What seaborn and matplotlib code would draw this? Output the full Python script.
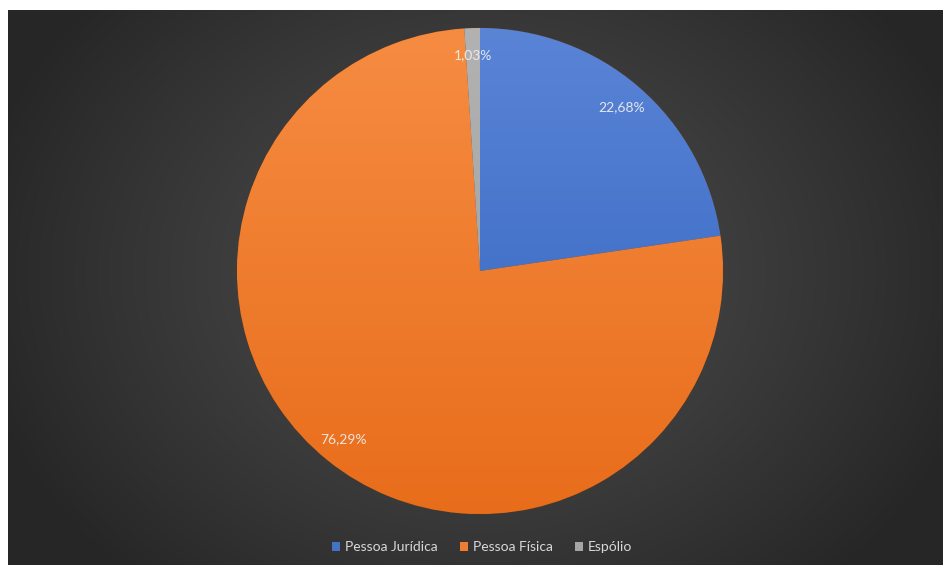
import numpy as np
import matplotlib
matplotlib.use("Agg")
import matplotlib.pyplot as plt
from matplotlib.patches import Patch
from matplotlib.colors import LinearSegmentedColormap, to_rgb
import seaborn as sns

# Share of records by type of holder
categories = ["Pessoa Jurídica", "Pessoa Física", "Espólio"]
shares = [22.68, 76.29, 1.03]
colors_top = ["#5a84d6", "#f68c42", "#b2b2b2"]
colors_bottom = ["#2f62be", "#e86d1b", "#9c9c9c"]
base_colors = ["#4472c4", "#ed7d31", "#a5a5a5"]

sns.set_theme(style="white")
plt.rcParams["font.family"] = ["Lato", "DejaVu Sans"]

W, H = 943, 565
fig = plt.figure(figsize=(W / 100, H / 100), dpi=100, facecolor="white")

# Dark chart area with a radial glow behind the pie
bg = fig.add_axes([8 / W, 0, 1 - 8 / W, 1 - 10 / H])
bg.set_axis_off()
ny, nx = 555, 935
yy, xx = np.mgrid[0:ny, 0:nx]
cx, cy = 472, 262
d = np.sqrt(((xx - cx) / 520.0) ** 2 + ((yy - cy) / 420.0) ** 2)
d = np.clip(d, 0, 1)
inner = np.array(to_rgb("#4d4d4d"))
outer = np.array(to_rgb("#262626"))
t = d[..., None] ** 1.2
img = inner * (1 - t) + outer * t
bg.imshow(img, aspect="auto", extent=[0, 1, 0, 1], origin="upper")

# Pie axes: centre at (480, 271) px, radius ~243 px
R = 243
cxp, cyp = 480, 271
pie_ax = fig.add_axes([(cxp - R - 4) / W, (H - cyp - R - 4) / H,
                       (2 * R + 8) / W, (2 * R + 8) / H])
pie_ax.set_axis_off()

wedges, texts, autotexts = pie_ax.pie(
    shares,
    colors=base_colors,
    startangle=90,
    counterclock=False,
    radius=1.0,
    autopct=lambda p: f"{p:.2f}%".replace(".", ","),
    pctdistance=0.89,
    textprops=dict(color="#f2f2f2", fontsize=10, alpha=0.9),
    wedgeprops=dict(edgecolor="#5a3a20", linewidth=0.6),
)
pie_ax.set_xlim(-1.0 - 8 / (2 * R), 1.0 + 8 / (2 * R))
pie_ax.set_ylim(-1.0 - 8 / (2 * R), 1.0 + 8 / (2 * R))
pie_ax.set_aspect("equal")

# Vertical shading inside each slice
for w, ctop, cbot in zip(wedges, colors_top, colors_bottom):
    cmap = LinearSegmentedColormap.from_list("shade", [ctop, cbot])
    grad = np.linspace(0, 1, 256)[:, None]
    im = pie_ax.imshow(grad, cmap=cmap, extent=[-1, 1, -1, 1],
                       origin="upper", aspect="auto", zorder=w.get_zorder() + 0.1)
    im.set_clip_path(w)
    w.set_zorder(w.get_zorder())

for t_ in autotexts:
    t_.set_zorder(10)

# Legend along the bottom
handles = [Patch(facecolor=c, edgecolor="none") for c in base_colors]
leg = fig.legend(handles, categories, loc="center", ncol=3,
                 bbox_to_anchor=(482 / W, 18 / H), frameon=False,
                 handlelength=0.6, handleheight=0.6, handletextpad=0.35,
                 columnspacing=1.6, fontsize=10)
for txt in leg.get_texts():
    txt.set_color("#d9d9d9")

fig.savefig("out.png", dpi=100, facecolor="white")
